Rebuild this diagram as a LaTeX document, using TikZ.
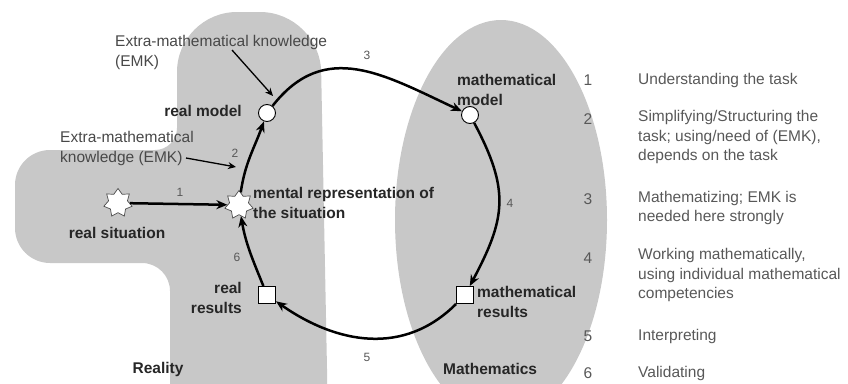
\documentclass[tikz,border=0pt]{standalone}
\usepackage{fontspec}
\setmainfont{Liberation Sans}
\usetikzlibrary{shapes.geometric,arrows.meta}
\definecolor{regiongray}{HTML}{C8C8C8}
\definecolor{txtgray}{HTML}{484848}
\definecolor{listgray}{HTML}{585858}
\begin{document}
\begin{tikzpicture}[x=1pt,y=-1pt,
  lbl/.style={font=\fontsize{15.5}{20}\selectfont, inner sep=0pt, text=txtgray},
  blbl/.style={font=\fontsize{15.5}{20}\selectfont\bfseries, inner sep=0pt, text=black!85},
  lst/.style={font=\fontsize{15.5}{19.5}\selectfont, inner sep=0pt, text=listgray},
  num/.style={font=\fontsize{12}{14}\selectfont, inner sep=0pt, text=listgray},
  cyc/.style={line width=2.5pt, -{Stealth[length=11pt,width=9pt]}},
  emk/.style={line width=1.3pt, -{Stealth[length=8pt,width=7pt]}},
  starnode/.style={star, star points=7, star point ratio=1.5, draw=black!70, fill=white, minimum size=29pt, inner sep=0pt, line width=0.7pt},
  circnode/.style={circle, draw, fill=white, minimum size=17pt, inner sep=0pt, line width=0.9pt},
  sqnode/.style={rectangle, draw, fill=white, minimum size=17pt, inner sep=0pt, line width=1pt},
]
\useasboundingbox (0,0) rectangle (848,383);
% regions
\fill[regiongray] (177,100) [rounded corners=60pt] -- (177,12) -- (320,12) [rounded corners=40pt] -- (328,420) -- (170,420) [rounded corners=28pt] -- (170,263) [rounded corners=35pt] -- (15,263) -- (15,150) [rounded corners=22pt] -- (177,150) -- cycle;
\fill[regiongray] (501,220) ellipse [x radius=106, y radius=200];

% nodes
\node[starnode] (rs) at (118,203) {};
\node[starnode] (mr) at (239,205) {};
\node[circnode] (rm) at (267,113) {};
\node[circnode] (mm) at (470,115) {};
\node[sqnode] (mres) at (465,295) {};
\node[sqnode] (rres) at (267,295) {};

% cycle arrows
\draw[cyc] (rs) -- (mr);
\draw[cyc] (mr) to[out=82,in=-110] (rm);
\draw[cyc] (rm) to[out=52,in=155,looseness=1.15] (mm);
\draw[cyc] (mm) to[out=-62,in=62,looseness=1.2] (mres);
\draw[cyc] (mres) to[out=-135,in=-35,looseness=1.05] (rres);
\draw[cyc] (rres) to[out=112,in=-80] (mr);

% arrow numbers
\node[num] (n1) at (180,192) {1};
\node[num] (n2) at (235,153) {2};
\node[num] (n3) at (367,55) {3};
\node[num] (n4) at (510,203) {4};
\node[num] (n5) at (367,357) {5};
\node[num] (n6) at (237,257) {6};

% EMK
\node[lbl, anchor=west, align=left] (emk1) at (115,52) {Extra-mathematical knowledge\\(EMK)};
\node[lbl, anchor=west, align=left] (emk2) at (60,148) {Extra-mathematical\\knowledge (EMK)};
\coordinate (e1s) at (232,50);
\coordinate (e1t) at (273,96);
\coordinate (e2s) at (186,158);
\coordinate (e2t) at (236,167);
\draw[emk] (e1s) -- (e1t);
\draw[emk] (e2s) -- (e2t);

% labels
\node[blbl, anchor=east] (lrm) at (242,111) {real model};
\node[blbl] (lrs) at (117,233) {real situation};
\node[blbl, anchor=west, align=left] (lmr) at (253,203) {mental representation of\\the situation};
\node[blbl, anchor=east, align=right] (lrr) at (242,298) {real\\results};
\node[blbl, anchor=west, align=left] (lmm) at (457,90) {mathematical\\model};
\node[blbl, anchor=west, align=left] (lmres) at (477,302) {mathematical\\results};
\node[blbl] (lreal) at (158,369) {Reality};
\node[blbl, anchor=west] (lmath) at (443,369) {Mathematics};

% list
\node[lst] (k1) at (588,80) {1};
\node[lst] (k2) at (588,119) {2};
\node[lst] (k3) at (588,199) {3};
\node[lst] (k4) at (588,258) {4};
\node[lst] (k5) at (588,336) {5};
\node[lst] (k6) at (588,373) {6};
\node[lst, anchor=west, align=left] (t1) at (638,80) {Understanding the task};
\node[lst, anchor=west, align=left] (t2) at (638,137) {Simplifying/Structuring the\\task; using/need of (EMK),\\depends on the task};
\node[lst, anchor=west, align=left] (t3) at (638,208) {Mathematizing; EMK is\\needed here strongly};
\node[lst, anchor=west, align=left] (t4) at (638,275) {Working mathematically,\\using individual mathematical\\competencies};
\node[lst, anchor=west, align=left] (t5) at (638,336) {Interpreting};
\node[lst, anchor=west, align=left] (t6) at (638,373) {Validating};
\end{tikzpicture}
\end{document}
